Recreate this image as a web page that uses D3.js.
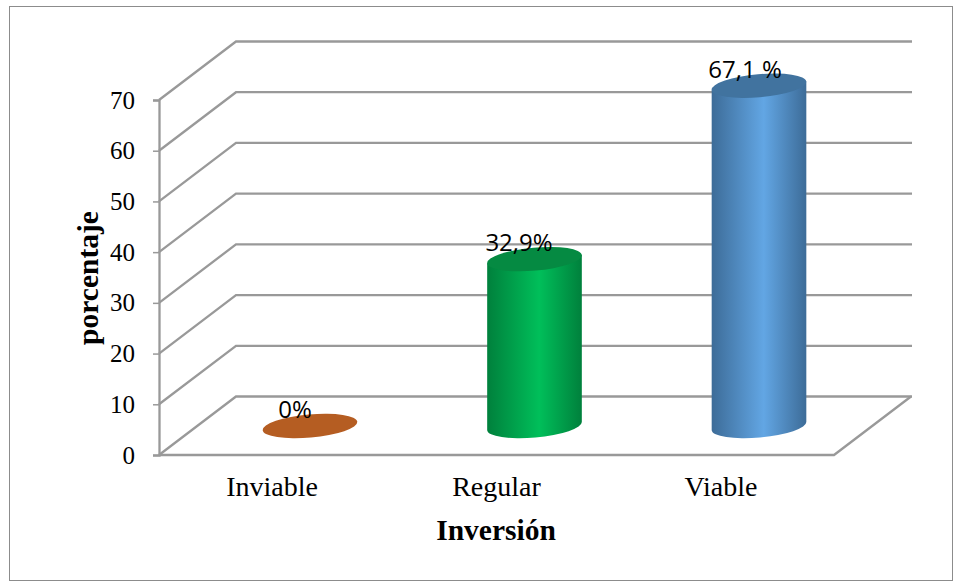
<!DOCTYPE html>
<html>
<head>
<meta charset="utf-8">
<script src="https://cdn.jsdelivr.net/npm/d3@7"></script>
<style>
  html, body { margin: 0; padding: 0; background: #fff; }
  svg { display: block; }
</style>
</head>
<body>
<script>
const categories = ["Inviable", "Regular", "Viable"];
const values = [0, 32.9, 67.1];
const valueLabels = ["0%", "32,9%", "67,1 %"];
const tickValues = [0, 10, 20, 30, 40, 50, 60, 70];
const sideColors = [
  ["#b55d22", "#b55d22"],
  ["#00803c", "#00bf5a"],
  ["#3d6c98", "#62a6e4"]
];
const topColors = ["#b55d22", "#058a42", "#41739f"];
const axisTitleX = "Inversión";
const axisTitleY = "porcentaje";

const width = 962, height = 583;
const depthX = 77, depthY = -58.5;
const gridColor = "#999999";

const svg = d3.select("body").append("svg")
  .attr("width", width).attr("height", height);

svg.append("rect")
  .attr("x", 9.5).attr("y", 6.5).attr("width", 943).attr("height", 574)
  .attr("fill", "#fff").attr("stroke", "#8c8c8c").attr("stroke-width", 1);

const y = d3.scaleLinear().domain([0, 70]).range([455, 100]);
const x = d3.scalePoint().domain(categories).range([310, 759]);
const floorRight = 834;
const baseY = 426;
const radiusX = 47.5, radiusY = 11.5;
const tilt = -5;
const heightOf = v => y(0) - y(v);

// Back wall and side wall gridlines
const grid = svg.append("g").attr("fill", "none")
  .attr("stroke", gridColor).attr("stroke-width", 2.3);
grid.selectAll("path.wall").data(tickValues).join("path")
  .attr("class", "wall")
  .attr("d", d => {
    const p = d3.path();
    p.moveTo(159, y(d));
    p.lineTo(159 + depthX, y(d) + depthY);
    p.lineTo(floorRight + depthX + 1, y(d) + depthY);
    return p.toString();
  });

// Floor edges
const floor = d3.path();
floor.moveTo(159, y(0));
floor.lineTo(floorRight, y(0));
floor.lineTo(floorRight + depthX, y(0) + depthY);
grid.append("path").attr("d", floor.toString());

// Value axis with its outward ticks
const axis = d3.axisLeft(y).tickValues(tickValues).tickSize(6).tickPadding(18);
const axisG = svg.append("g").attr("transform", "translate(159,0)").call(axis);
axisG.select(".domain").attr("stroke", gridColor).attr("stroke-width", 2.3);
axisG.selectAll(".tick line").attr("stroke", gridColor).attr("stroke-width", 1.5);
axisG.selectAll(".tick text")
  .attr("fill", "#000")
  .style("font", "25px 'Liberation Serif'");

// Category labels sit left of the cylinders because of the floor's perspective
const labelShift = -38;
svg.append("g").selectAll("text").data(categories).join("text")
  .attr("x", d => x(d) + labelShift)
  .attr("y", 496)
  .attr("text-anchor", "middle")
  .style("font", "28px 'Liberation Serif'")
  .text(d => d);

// Axis titles
svg.append("text").attr("x", 496).attr("y", 540).attr("text-anchor", "middle")
  .style("font", "bold 29.5px 'Liberation Serif'").text(axisTitleX);
svg.append("text")
  .attr("transform", "translate(98,278) rotate(-90)")
  .attr("text-anchor", "middle")
  .style("font", "bold 29.5px 'Liberation Serif'").text(axisTitleY);

// Horizontal shading for the cylinder sides
const defs = svg.append("defs");
categories.forEach((c, i) => {
  const g = defs.append("linearGradient").attr("id", "side" + i);
  g.append("stop").attr("offset", "0%").attr("stop-color", sideColors[i][0]);
  g.append("stop").attr("offset", "55%").attr("stop-color", sideColors[i][1]);
  g.append("stop").attr("offset", "100%").attr("stop-color", sideColors[i][0]);
});

// Cylinders, drawn from the values through the scales
const rad = tilt * Math.PI / 180;
const dx = radiusX * Math.cos(rad), dy = radiusX * Math.sin(rad);
const bars = svg.append("g").selectAll("g").data(values).join("g");
bars.filter(d => d > 0).append("path")
  .attr("fill", d => `url(#side${values.indexOf(d)})`)
  .attr("d", d => {
    const cx = x(categories[values.indexOf(d)]);
    const top = baseY - heightOf(d);
    return `M${cx - dx},${top - dy}` +
      `L${cx - dx},${baseY - dy}` +
      `A${radiusX},${radiusY} ${tilt} 0 0 ${cx + dx},${baseY + dy}` +
      `L${cx + dx},${top + dy}Z`;
  });
bars.append("ellipse")
  .attr("cx", 0).attr("cy", 0)
  .attr("rx", radiusX).attr("ry", radiusY)
  .attr("fill", (d, i) => topColors[i])
  .attr("transform", (d, i) =>
    `translate(${x(categories[i])},${baseY - heightOf(d)}) rotate(${tilt})`);

// Value labels
const labelOffsets = [-15, -15.5, -14];
svg.append("g").selectAll("text").data(values).join("text")
  .attr("x", (d, i) => x(categories[i]) + labelOffsets[i])
  .attr("y", d => baseY - heightOf(d) - 8)
  .attr("text-anchor", "middle")
  .style("font", "24px 'Open Sans'")
  .attr("fill", "#000")
  .text((d, i) => valueLabels[i]);
</script>
</body>
</html>
